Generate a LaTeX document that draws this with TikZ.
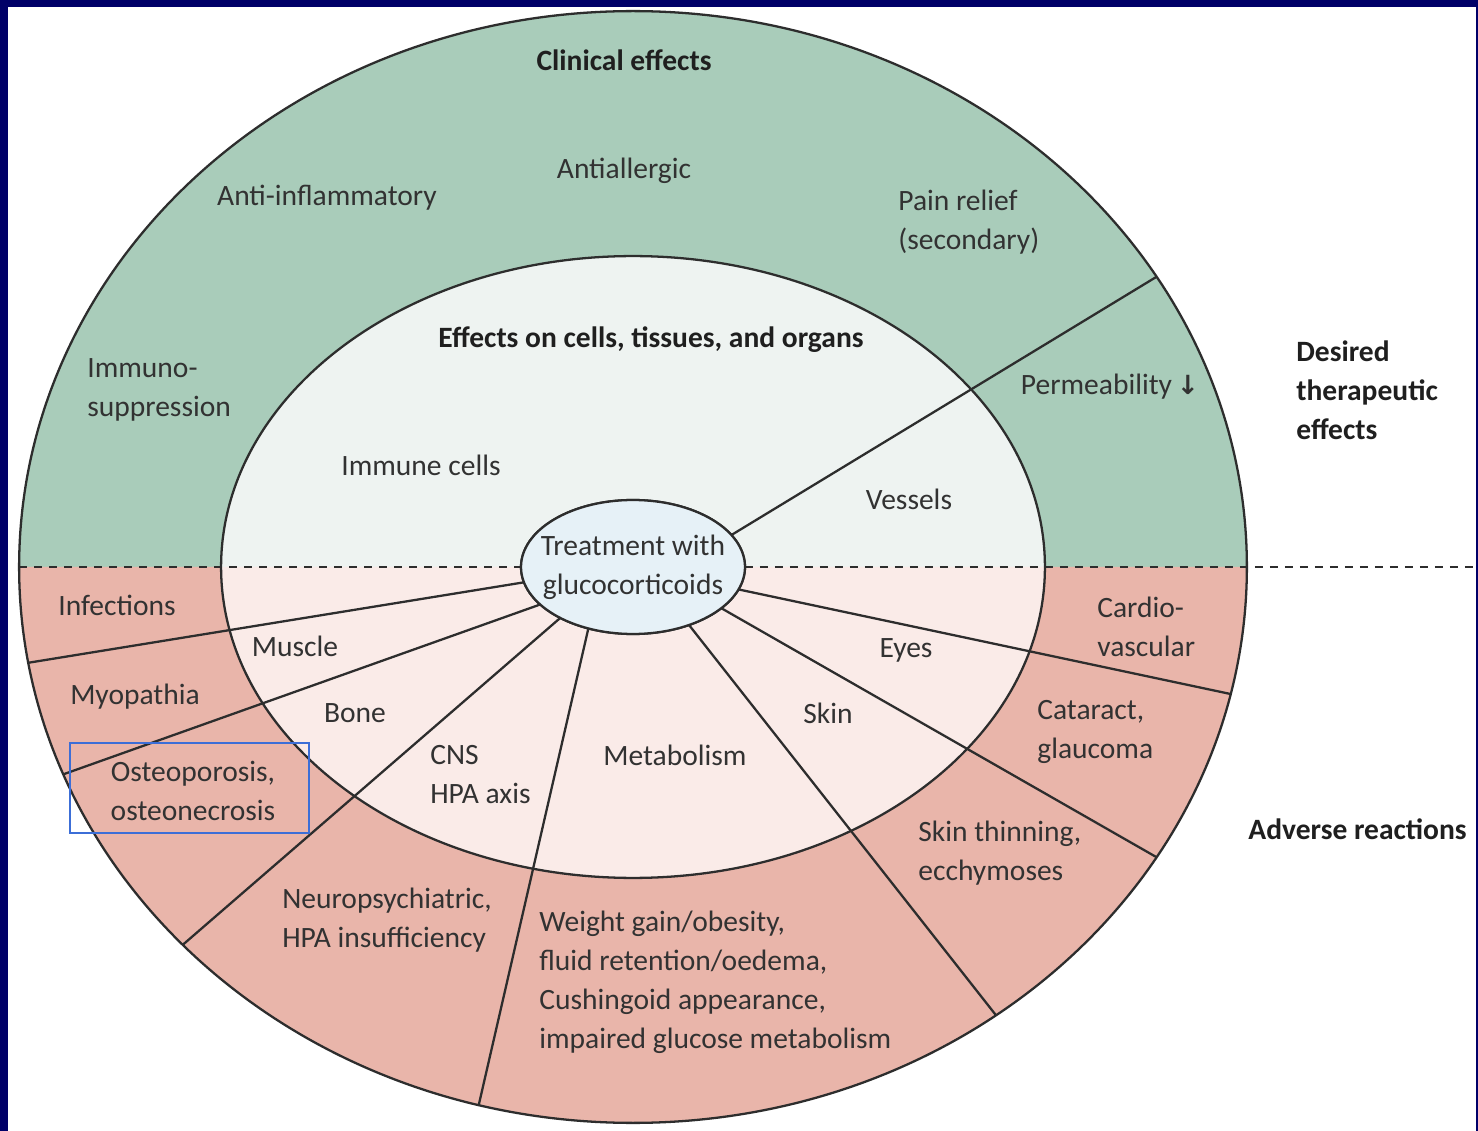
\documentclass[tikz,border=0pt]{standalone}
\usepackage{fontspec}
\setmainfont{Carlito}
\newfontfamily\arrowfont{DejaVu Sans}
\usetikzlibrary{shapes.geometric}

\definecolor{navy}{RGB}{0,0,104}
\definecolor{ringgreen}{RGB}{169,204,186}
\definecolor{ringpink}{RGB}{233,181,170}
\definecolor{coregreen}{RGB}{238,243,241}
\definecolor{corepink}{RGB}{250,235,232}
\definecolor{hubblue}{RGB}{230,241,247}
\definecolor{ink}{RGB}{45,45,45}
\definecolor{txt}{RGB}{50,50,50}
\definecolor{frameblue}{RGB}{60,110,215}

\begin{document}
\begin{tikzpicture}[x=0.02cm,y=0.02cm,
  ring/.style={ellipse, draw=ink, line width=1.3pt, inner sep=0pt, outer sep=0pt},
  divider/.style={draw=ink, line width=1.3pt},
  split/.style={draw=ink, line width=1.2pt, dash pattern=on 0.16cm off 0.14cm},
  lbl/.style={inner sep=0pt, text=txt, font=\fontsize{16.8}{22.2}\selectfont},
  head/.style={inner sep=0pt, text=black!88, font=\bfseries\fontsize{16.8}{22.2}\selectfont},
  lblblock/.style={lbl, align=left, anchor=west},
]
% canvas and frame
\fill[white] (0,0) rectangle (1478,-1131);
\fill[navy] (0,0) rectangle (8,-1131);
\fill[navy] (0,0) rectangle (1478,-7);
\fill[navy] (1475.5,0) rectangle (1478,-1131);
\useasboundingbox (0,0) rectangle (1478,-1131);

% coloured halves of the two rings
\fill[ringgreen] (19,-567) arc[start angle=180,end angle=0,x radius=614,y radius=556] -- cycle;
\fill[ringpink] (19,-567) arc[start angle=180,end angle=360,x radius=614,y radius=556] -- cycle;
\fill[coregreen] (221,-567) arc[start angle=180,end angle=0,x radius=412,y radius=311] -- cycle;
\fill[corepink] (221,-567) arc[start angle=180,end angle=360,x radius=412,y radius=311] -- cycle;

% ellipse outlines
\node[ring, minimum width=24.56cm, minimum height=22.24cm] (outer) at (633,-567) {};
\node[ring, minimum width=16.48cm, minimum height=12.44cm] (inner) at (633,-567) {};
\node[ring, minimum width=4.48cm, minimum height=2.68cm] (hub) at (633,-567) {};

% boundary between desired and adverse effects
\draw[split] (outer.west) -- (hub.west);
\coordinate (rightend) at (1474,-567);
\draw[split] (hub.east) -- (rightend);

% sector dividers
\draw[divider] (hub.18.8) -- (outer.29.5);
\draw[divider] (hub.188.2) -- (outer.189.5);
\draw[divider] (hub.202.7) -- (outer.200.6);
\draw[divider] (hub.215.2) -- (outer.220.6);
\draw[divider] (hub.234.1) -- (outer.254.3);
\draw[divider] (hub.314.5) -- (outer.309.9);
\draw[divider] (hub.335.9) -- (outer.331.5);
\draw[divider] (hub.348.7) -- (outer.348.2);

% central ellipse on top
\node[ring, fill=hubblue, minimum width=4.48cm, minimum height=2.68cm] (hubfill) at (633,-567) {};
\node[lbl, align=center] (hubtext) at (633,-567) {Treatment with\\glucocorticoids};

% desired effects
\node[head] (clinical) at (624,-60) {Clinical effects};
\node[lbl] (antiallergic) at (624,-171) {Antiallergic};
\node[lbl] (antiinfl) at (327,-198) {Anti-inflammatory};
\node[lblblock] (pain) at (898,-222) {Pain relief\\(secondary)};
\node[lblblock] (immuno) at (87,-390) {Immuno-\\suppression};
\node[head] (effects) at (651,-340) {Effects on cells, tissues, and organs};
\node[lbl] (perm) at (1110,-387) {Permeability\,{\arrowfont\bfseries\fontsize{15}{15}\selectfont ↓}};
\node[head, align=left, anchor=west] (desired) at (1296,-390) {Desired\\therapeutic\\effects};
\node[lbl] (immcells) at (421,-465) {Immune cells};
\node[lbl] (vessels) at (909,-499) {Vessels};

% adverse reactions
\node[lbl] (infect) at (117,-605) {Infections};
\node[lbl] (muscle) at (295,-646) {Muscle};
\node[lbl] (myo) at (135,-697) {Myopathia};
\node[lbl] (bone) at (355,-713) {Bone};
\node[draw=frameblue, line width=1.1pt, inner sep=0pt, minimum width=4.78cm, minimum height=1.8cm] (osteobox) at (189.5,-788) {};
\node[lbl, align=center] (osteo) at (193,-791) {Osteoporosis,\\osteonecrosis};
\node[lblblock] (cns) at (430,-775) {CNS\\HPA axis};
\node[lbl] (metab) at (675,-755) {Metabolism};
\node[lbl] (skin) at (828,-713) {Skin};
\node[lbl] (eyes) at (906,-650) {Eyes};
\node[lblblock] (cardio) at (1097,-627) {Cardio-\\vascular};
\node[lblblock] (cataract) at (1037,-732) {Cataract,\\glaucoma};
\node[lblblock] (skinthin) at (918,-853) {Skin thinning,\\ecchymoses};
\node[lblblock] (neuro) at (282,-920) {Neuropsychiatric,\\HPA insufficiency};
\node[lblblock] (weight) at (539,-982) {Weight gain/obesity,\\fluid retention/oedema,\\Cushingoid appearance,\\impaired glucose metabolism};
\node[head, anchor=west] (adverse) at (1248,-829) {Adverse reactions};
\end{tikzpicture}
\end{document}
